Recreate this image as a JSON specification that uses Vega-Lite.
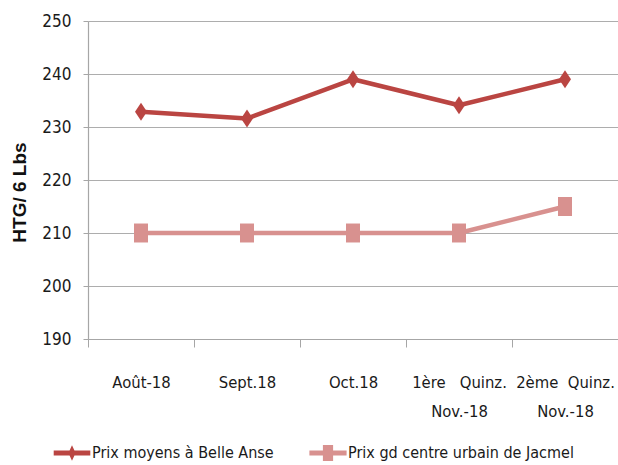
{
  "$schema": "https://vega.github.io/schema/vega-lite/v6.json",
  "width": 530,
  "height": 318,
  "autosize": {"type": "none"},
  "padding": {"left": 88, "top": 21, "right": 0, "bottom": 126},
  "background": "white",
  "config": {
    "view": {"stroke": null},
    "font": "DejaVu Sans Condensed, Liberation Sans"
  },
  "data": {
    "values": [
      {"mois": "Août-18", "serie": "Prix moyens à Belle Anse", "prix": 232.9},
      {"mois": "Sept.18", "serie": "Prix moyens à Belle Anse", "prix": 231.6},
      {"mois": "Oct.18", "serie": "Prix moyens à Belle Anse", "prix": 239},
      {"mois": "1ère\u00a0\u00a0\u00a0Quinz.|Nov.-18", "serie": "Prix moyens à Belle Anse", "prix": 234.1},
      {"mois": "2ème\u00a0\u00a0Quinz.|Nov.-18", "serie": "Prix moyens à Belle Anse", "prix": 239},
      {"mois": "Août-18", "serie": "Prix gd centre urbain de Jacmel", "prix": 210},
      {"mois": "Sept.18", "serie": "Prix gd centre urbain de Jacmel", "prix": 210},
      {"mois": "Oct.18", "serie": "Prix gd centre urbain de Jacmel", "prix": 210},
      {"mois": "1ère\u00a0\u00a0\u00a0Quinz.|Nov.-18", "serie": "Prix gd centre urbain de Jacmel", "prix": 210},
      {"mois": "2ème\u00a0\u00a0Quinz.|Nov.-18", "serie": "Prix gd centre urbain de Jacmel", "prix": 215}
    ]
  },
  "encoding": {
    "x": {
      "field": "mois",
      "type": "nominal",
      "sort": null,
      "scale": {"type": "band", "paddingInner": 0, "paddingOuter": 0},
      "axis": {
        "title": null,
        "labelAngle": 0,
        "labelExpr": "split(datum.label, '|')",
        "labelFont": "DejaVu Sans Condensed, Liberation Sans",
        "labelFontSize": 16.5,
        "labelColor": "#1a1a1a",
        "labelBaseline": "top",
        "labelLineHeight": 29,
        "labelPadding": 27,
        "labelLimit": 0,
        "tickBand": "extent",
        "tickSize": 8,
        "tickColor": "#A6A6A6",
        "domainColor": "#A6A6A6",
        "domainWidth": 1.2,
        "grid": false
      }
    },
    "y": {
      "field": "prix",
      "type": "quantitative",
      "scale": {"domain": [190, 250], "nice": false, "zero": false},
      "axis": {
        "title": "HTG/ 6 Lbs",
        "titleFont": "Liberation Sans",
        "titleFontWeight": "bold",
        "titleFontSize": 19,
        "titleColor": "#111111",
        "titlePadding": 12,
        "titleY": 171,
        "values": [190, 200, 210, 220, 230, 240, 250],
        "labelFont": "DejaVu Sans Condensed, Liberation Sans",
        "labelFontSize": 17,
        "labelColor": "#1a1a1a",
        "labelPadding": 12,
        "tickSize": 5,
        "tickColor": "#A6A6A6",
        "domainColor": "#A6A6A6",
        "domainWidth": 1.2,
        "grid": true,
        "gridColor": "#ADADAD",
        "gridWidth": 1.2
      }
    }
  },
  "layer": [
    {
      "transform": [{"filter": "datum.serie === 'Prix moyens à Belle Anse'"}],
      "encoding": {
        "color": {
          "field": "serie",
          "type": "nominal",
          "scale": {"domain": ["Prix moyens à Belle Anse"], "range": ["#BA4542"]},
          "legend": {
            "title": null,
            "orient": "none",
            "direction": "horizontal",
            "legendX": -24,
            "legendY": 424,
            "padding": 0,
            "symbolSize": 144,
            "symbolType": "M-3.05,-0.4L3.05,-0.4L3.05,0.4L-3.05,0.4Z M0,-1.3L0.6,0L0,1.3L-0.6,0Z",
            "symbolStrokeWidth": 0,
            "symbolOpacity": 1,
            "labelFont": "DejaVu Sans Condensed, Liberation Sans",
            "labelFontSize": 16,
            "labelColor": "#1a1a1a",
            "labelOffset": 12,
            "labelLimit": 0
          }
        }
      },
      "layer": [
        {"mark": {"type": "line", "strokeWidth": 4.5, "strokeJoin": "round"}},
        {"mark": {"type": "point", "filled": true, "opacity": 1, "size": 144, "strokeWidth": 0, "shape": "M0,-1.5L1,0L0,1.5L-1,0Z"}}
      ]
    },
    {
      "transform": [{"filter": "datum.serie === 'Prix gd centre urbain de Jacmel'"}],
      "encoding": {
        "color": {
          "field": "serie",
          "type": "nominal",
          "scale": {"domain": ["Prix gd centre urbain de Jacmel"], "range": ["#D8918F"]},
          "legend": {
            "title": null,
            "orient": "none",
            "direction": "horizontal",
            "legendX": 232,
            "legendY": 424,
            "padding": 0,
            "symbolSize": 144,
            "symbolType": "M-3.1,-0.4L3.1,-0.4L3.1,0.4L-3.1,0.4Z M-0.85,-1.35L0.85,-1.35L0.85,1.35L-0.85,1.35Z",
            "symbolStrokeWidth": 0,
            "symbolOpacity": 1,
            "labelFont": "DejaVu Sans Condensed, Liberation Sans",
            "labelFontSize": 16,
            "labelColor": "#1a1a1a",
            "labelOffset": 12,
            "labelLimit": 0
          }
        }
      },
      "layer": [
        {"mark": {"type": "line", "strokeWidth": 4.5, "strokeJoin": "round"}},
        {"mark": {"type": "point", "filled": true, "opacity": 1, "size": 144, "strokeWidth": 0, "shape": "M-1.17,-1.58L1.17,-1.58L1.17,1.58L-1.17,1.58Z"}}
      ]
    }
  ],
  "resolve": {"scale": {"color": "independent"}, "legend": {"color": "independent"}}
}
